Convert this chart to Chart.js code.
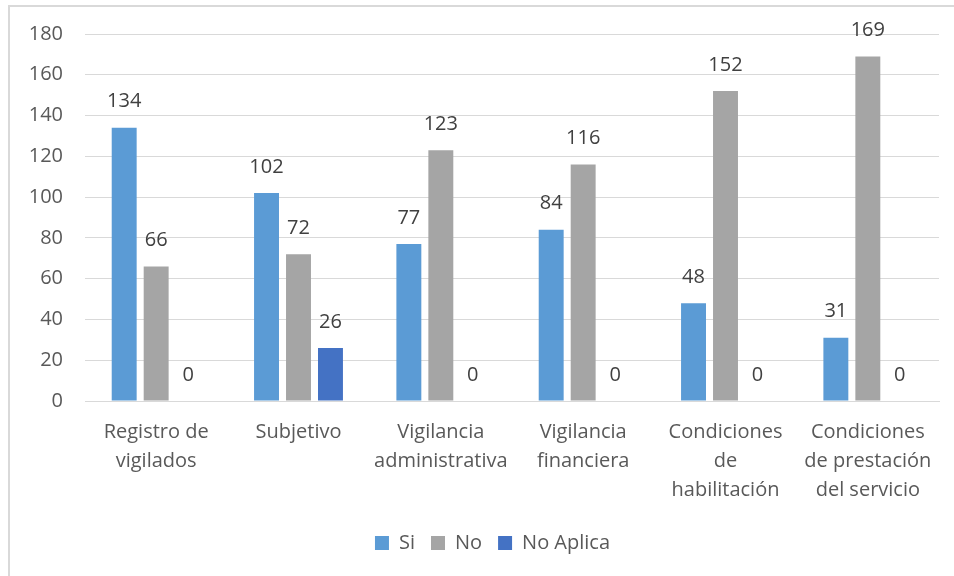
<!DOCTYPE html>
<html>
<head>
<meta charset="utf-8">
<script src="https://cdn.jsdelivr.net/npm/chart.js@4/dist/chart.umd.min.js"></script>
<style>
  body { margin: 0; background: #fff; }
  #wrap { position: relative; width: 954px; height: 576px; overflow: hidden; }
  #frame { position: absolute; left: 8px; top: 5px; width: 980px; height: 600px;
           border-left: 2px solid #d9d9d9; border-top: 2px solid #d9d9d9; }
  canvas { position: absolute; left: 0; top: 0; }
</style>
</head>
<body>
<div id="wrap">
  <div id="frame"></div>
  <canvas id="chart" width="954" height="576"></canvas>
</div>
<script>
var categories = [
    ["Registro de", "vigilados"],
    "Subjetivo",
    ["Vigilancia", "administrativa"],
    ["Vigilancia", "financiera"],
    ["Condiciones", "de", "habilitación"],
    ["Condiciones", "de prestación", "del servicio"]
];
var siValues = [134, 102, 77, 84, 48, 31];
var noValues = [66, 72, 123, 116, 152, 169];
var noAplicaValues = [0, 26, 0, 0, 0, 0];

var fontName = "'Open Sans', sans-serif";

// etiquetas de valor encima de cada barra
var valueLabels = {
    id: "valueLabels",
    afterDatasetsDraw: function(chart) {
        var ctx = chart.ctx;
        ctx.save();
        ctx.font = "20px " + fontName;
        ctx.fillStyle = "#404040";
        ctx.textAlign = "center";
        ctx.textBaseline = "middle";
        chart.data.datasets.forEach(function(ds, i) {
            chart.getDatasetMeta(i).data.forEach(function(bar, j) {
                ctx.fillText(ds.data[j], bar.x, bar.y - 26);
            });
        });
        ctx.restore();
    }
};

// la leyenda va un poco a la derecha del centro
var legendShift = {
    id: "legendShift",
    afterLayout: function(chart) {
        chart.legend.left += 23;
        chart.legend.right += 23;
    }
};

new Chart("chart", {
    type: "bar",
    data: {
        labels: categories,
        datasets: [
            { label: "Si", data: siValues, backgroundColor: "#5B9BD5" },
            { label: "No", data: noValues, backgroundColor: "#A5A5A5" },
            { label: "No Aplica", data: noAplicaValues, backgroundColor: "#4472C4" }
        ]
    },
    options: {
        responsive: false,
        animation: false,
        layout: { padding: { top: 34, right: 15, bottom: 13, left: 0 } },
        datasets: { bar: { categoryPercentage: 0.674, barPercentage: 0.78 } },
        scales: {
            x: {
                grid: { display: false, drawTicks: false },
                border: { color: "#d9d9d9", width: 1 },
                ticks: { color: "#595959", font: { family: fontName, size: 20, lineHeight: 1.45 }, padding: 17, maxRotation: 0, autoSkip: false },
                afterFit: function(scale) { scale.height = 116; }
            },
            y: {
                min: 0, max: 180,
                grid: { color: "#d9d9d9", drawTicks: false },
                border: { display: false },
                ticks: { stepSize: 20, color: "#595959", font: { family: fontName, size: 20 }, padding: 22 },
                afterFit: function(scale) { scale.width = 85; }
            }
        },
        plugins: {
            tooltip: { enabled: false },
            legend: {
                position: "bottom",
                labels: { color: "#595959", font: { family: fontName, size: 20 }, boxWidth: 14, boxHeight: 14, padding: 16 }
            }
        }
    },
    plugins: [valueLabels, legendShift]
});
</script>
</body>
</html>
